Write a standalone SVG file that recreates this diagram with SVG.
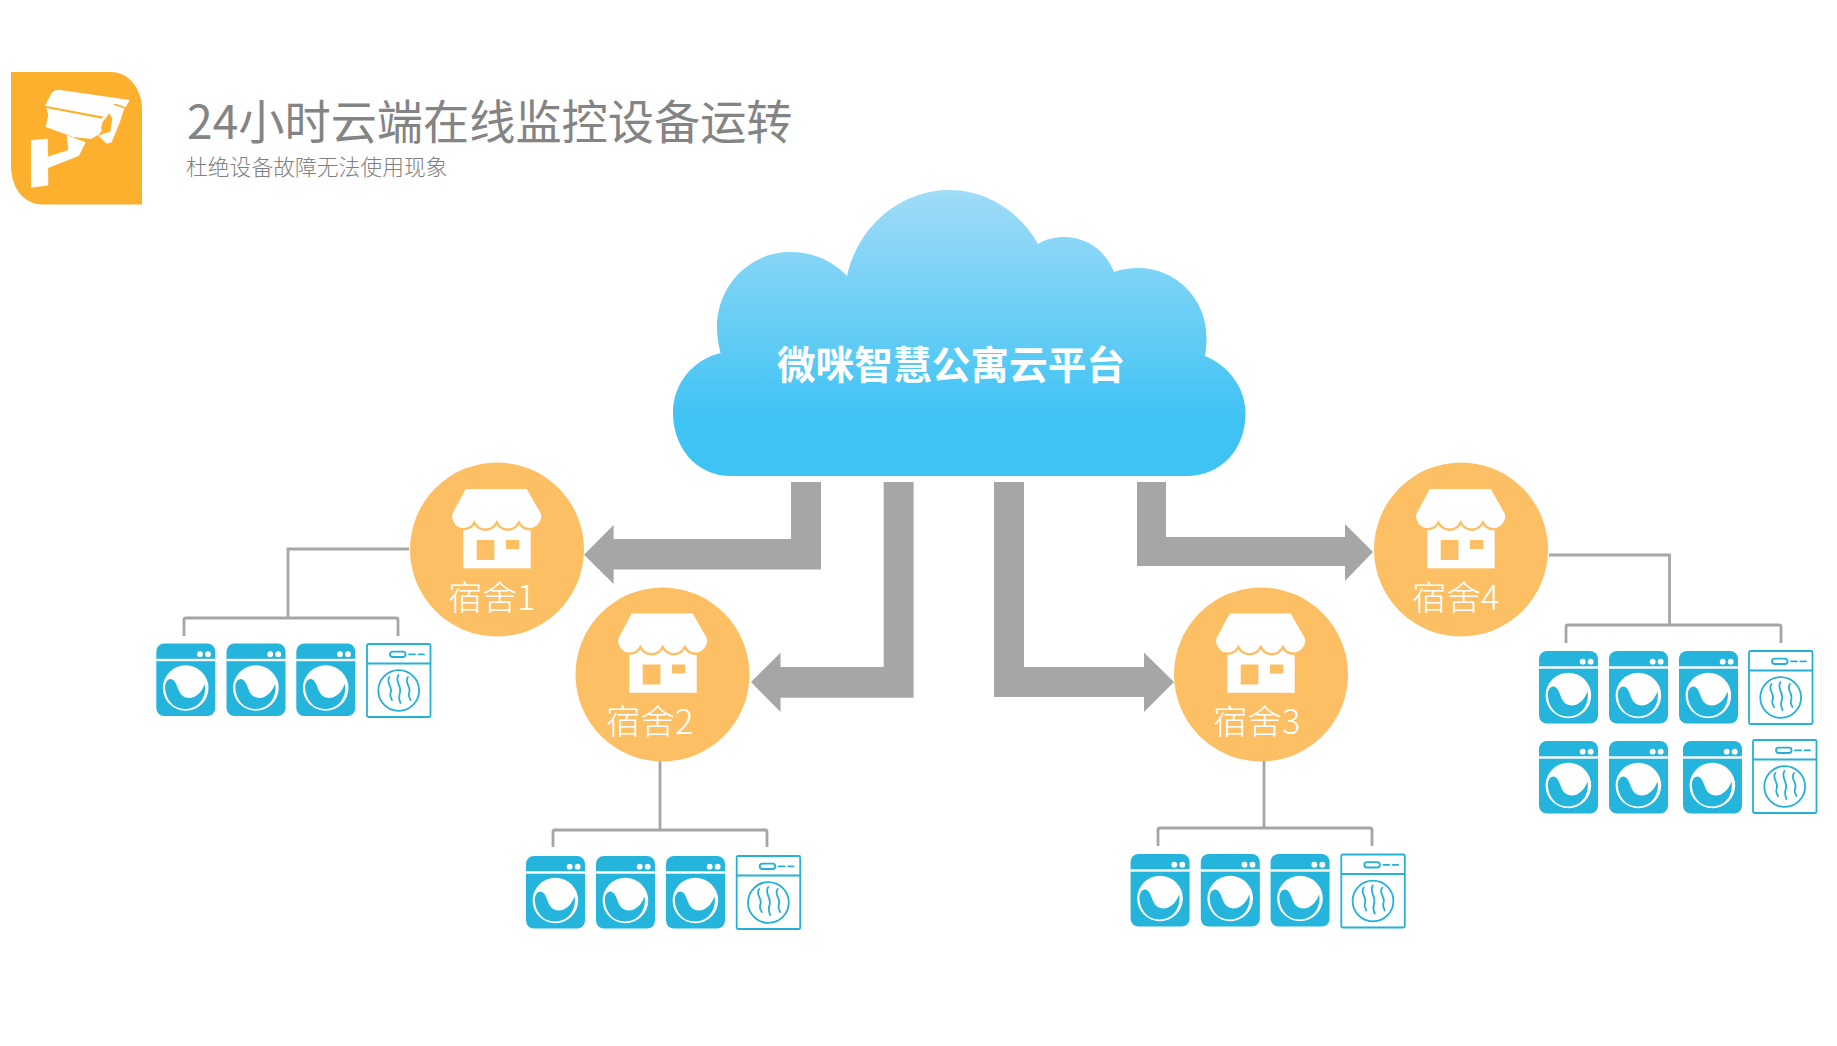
<svg xmlns="http://www.w3.org/2000/svg" width="1837" height="1046" viewBox="0 0 1837 1046">
<style>
.cjk{font-family:"Noto Sans CJK SC","Noto Sans",sans-serif}
.lbl{font-size:34.500px;fill:#fff;font-weight:300}
.line{fill:none;stroke:#a6a6a6;stroke-width:2.800}
.arrow{fill:#a6a6a6}
.c{fill:#fdbf63}
.b{fill:#25b5dc}
.d{fill:none;stroke:#25b0d8;stroke-width:1.800}
.ds{fill:none;stroke:#25b0d8;stroke-width:1.800;stroke-linecap:round}
</style>
<defs>
<linearGradient id="sky" x1="0" y1="0" x2="0" y2="1">
<stop offset="0" stop-color="#a0dcf7"/><stop offset="0.8" stop-color="#3fc3f4"/><stop offset="1" stop-color="#3fc3f4"/>
</linearGradient>
<g id="washer">
<rect class="b" x="0" y="0" width="59" height="72.500" rx="8"/>
<rect x="0" y="15.300" width="59" height="2.400" fill="#fff"/>
<circle cx="43.700" cy="10.700" r="2.900" fill="#fff"/><circle cx="51.700" cy="10.700" r="2.900" fill="#fff"/>
<circle cx="29.400" cy="44.500" r="22.800" fill="#fff"/>
<path class="b" transform="translate(0,2)" d="M8.900,43.500C8.200,36.500 12,32.500 15.500,33.700C21,35.500 21,46.500 26.500,50.500C33,55 43.500,52 48.600,38.500C50.500,50 44,63 29.400,63.500C17,64 9.800,54 8.900,43.500Z"/>
</g>
<g id="dryer">
<rect class="d" x="1" y="1" width="63.500" height="73" rx="1.500"/>
<path class="d" d="M1,20.500H64.500"/>
<rect class="d" x="24" y="8.600" width="15.600" height="5.400" rx="2.700"/>
<path class="ds" d="M43,11.300H49M52.500,11.300H58"/>
<circle class="d" cx="32.700" cy="47.500" r="20.400"/>
<path class="ds" d="M23.500,34C19,39.500 27.500,44 24.500,50C23.500,53 25,55 26,57M32.500,32C28,38 37,44 33.500,51C32.500,55 33.500,58 34.500,60M42,34C37.500,39.500 46,44 43,50C42,53 43.500,55 44.500,57"/>
</g>
<g id="store">
<rect x="-33.700" y="-27" width="67.400" height="45.300" fill="#fff"/>
<path d="M-31.300,-61H29.700L44,-36C45.500,-30 40,-22 33,-22C27.500,-22 24,-25 22,-30C19.500,-25 16,-21.500 11,-21.500C6,-21.500 2,-25 -0.300,-30C-2.500,-25 -6,-21.500 -11.500,-21.500C-16.500,-21.500 -20.500,-25 -22.700,-30C-24.500,-25 -28,-22 -34,-22C-41,-22 -46,-30 -44.700,-36Z" fill="#fff" stroke="#fdbf63" stroke-width="5" paint-order="stroke"/>
<rect class="c" x="-20.300" y="-10" width="17.700" height="20"/>
<rect class="c" x="9" y="-10" width="13.300" height="9"/>
</g>
</defs>

<g id="logo">
<path d="M11,72H111C129,72 142,89 142,110V204.500H42C24,204.500 11,188 11,166Z" fill="#fdb02e"/>
<g transform="translate(5,65) scale(0.33333)" fill="#fff">
<path d="M120,122L138,88Q145,75 160,74L374,105L362,127L332,116Q322,118 316,132L305,157Z"/>
<path d="M124,129L292,161L284,208L268,216L258,222L205,216L122,186L130,150Z"/>
<path d="M292,160L303,134Q315,122 328,121L358,130L345,170L320,232L305,236L280,212L296,206L316,200L322,160L312,145L302,160Q285,175 290,200L280,205Z"/>
<path d="M185,210L242,232L222,272L128,310V275L190,255Z"/>
<path d="M78,226L128,221L130,361L78,368Z"/>
</g>
</g>

<g id="title">
<text class="cjk" x="187" y="139" font-size="46.200" fill="#848484">24小时云端在线监控设备运转</text>
<text class="cjk" x="186" y="175" font-size="21.800" fill="#808080" font-weight="300">杜绝设备故障无法使用现象</text>
</g>

<g id="connectors">
<path class="arrow" d="M791,482H821V569.500H613.600V584L584,554.700L613.600,525V539H791Z"/>
<path class="arrow" d="M883.700,482H913.600V697.700H780.500V712L751,682L780.500,652.700V667H883.700Z"/>
<path class="arrow" d="M994,482H1024V667H1144V652.500L1174,682L1144,712V697H994Z"/>
<path class="arrow" d="M1137,482H1166V537H1345V524L1373,552L1345,581V566H1137Z"/>
<path class="line" d="M409,549H288V618"/>
<path class="line" d="M184,636V620Q184,618 186,618H396Q398,618 398,620V636"/>
<path class="line" d="M660,760V830"/>
<path class="line" d="M553,847V832Q553,830 555,830H765Q767,830 767,832V847"/>
<path class="line" d="M1264,760V828"/>
<path class="line" d="M1158,846V830Q1158,828 1160,828H1370Q1372,828 1372,830V846"/>
<path class="line" d="M1549,555H1669.500V625"/>
<path class="line" d="M1566,643V627Q1566,625 1568,625H1779Q1781,625 1781,627V643"/>
</g>

<g id="cloud">
<path d="M731,476C695,476 673,446 673,413C673,383 693,360 720.500,353C718,343 717,335 717,327C717,285 750,252 790,252C813,252 833,261 847,276C858,225 902,190 949,190C987,190 1020,212 1038,244C1046,239 1055,237 1064,237C1087,237 1106,251 1114,272C1122,269 1130,268 1138,268C1176,268 1206.500,299 1206.500,337C1206.500,344 1206,350 1205,356C1229,366 1245.500,388 1245.500,413C1245.500,449 1222,476 1186,476Z" fill="url(#sky)"/>
<text class="cjk" x="951" y="379" font-size="38.700" font-weight="700" fill="#fff" text-anchor="middle">微咪智慧公寓云平台</text>
</g>

<g id="dorm1">
<circle class="c" cx="497" cy="549.500" r="87"/>
<use href="#store" x="497" y="550"/>
<text class="cjk lbl" x="448" y="610">宿舍1</text>
</g>
<g id="dorm2">
<circle class="c" cx="662.500" cy="674.500" r="87"/>
<use href="#store" x="663" y="674.500"/>
<text class="cjk lbl" x="606" y="734">宿舍2</text>
</g>
<g id="dorm3">
<circle class="c" cx="1261" cy="674.500" r="87"/>
<use href="#store" x="1261" y="674.500"/>
<text class="cjk lbl" x="1213" y="734">宿舍3</text>
</g>
<g id="dorm4">
<circle class="c" cx="1461" cy="549.500" r="87"/>
<use href="#store" x="1461" y="550"/>
<text class="cjk lbl" x="1412" y="610">宿舍4</text>
</g>

<g id="machines1">
<use href="#washer" x="156.300" y="643.500"/><use href="#washer" x="226.500" y="643.500"/><use href="#washer" x="296.300" y="643.500"/><use href="#dryer" x="366" y="643"/>
</g>
<g id="machines2">
<use href="#washer" x="526" y="856"/><use href="#washer" x="596" y="856"/><use href="#washer" x="666" y="856"/><use href="#dryer" x="735.700" y="855"/>
</g>
<g id="machines3">
<use href="#washer" x="1130.600" y="854"/><use href="#washer" x="1200.800" y="854"/><use href="#washer" x="1270.600" y="854"/><use href="#dryer" x="1340.300" y="853.500"/>
</g>
<g id="machines4">
<use href="#washer" x="1539" y="651"/><use href="#washer" x="1609" y="651"/><use href="#washer" x="1679" y="651"/><use href="#dryer" x="1748" y="650"/>
<use href="#washer" x="1539" y="741"/><use href="#washer" x="1609" y="741"/><use href="#washer" x="1683" y="741"/><use href="#dryer" x="1752" y="739"/>
</g>
</svg>
